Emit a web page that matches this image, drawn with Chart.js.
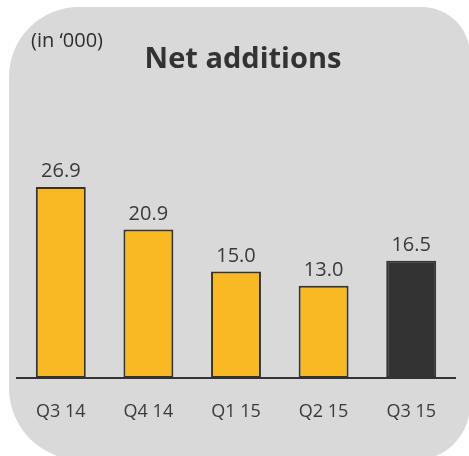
<!DOCTYPE html>
<html>
<head>
<meta charset="utf-8">
<script src="https://cdn.jsdelivr.net/npm/chart.js@4"></script>
<style>
    html, body { margin: 0; padding: 0; background: #ffffff; overflow: hidden; }
    #wrap { position: relative; width: 469px; height: 456px; overflow: hidden; }
    #panel {
        position: absolute; left: 9px; top: 7px; width: 461px; height: 453px;
        background: #d9d9d9;
        border-radius: 70px 48px 55px 72px;
    }
    #chart { position: absolute; left: 0; top: 0; }
</style>
</head>
<body>
<div id="wrap">
    <div id="panel"></div>
    <canvas id="chart" width="469" height="456"></canvas>
</div>
<script>
const quarters = ['Q3 14', 'Q4 14', 'Q1 15', 'Q2 15', 'Q3 15'];
const netAdditions = [26.9, 20.9, 15.0, 13.0, 16.5];
const yTicks = [0, 30];

const YELLOW = '#f8b924';
const DARK = '#333333';
const FONT = '"Open Sans", "Noto Sans", sans-serif';

// last quarter is highlighted in dark grey
const barColors = netAdditions.map((v, i) => i === netAdditions.length - 1 ? DARK : YELLOW);

const headerPlugin = {
    id: 'header',
    afterDraw(chart) {
        const ctx = chart.ctx;
        ctx.save();
        ctx.fillStyle = '#333333';
        ctx.textBaseline = 'alphabetic';
        ctx.font = 'bold 29px ' + FONT;
        ctx.textAlign = 'center';
        ctx.fillText('Net additions', 243, 68);
        ctx.fillStyle = '#2e2e2e';
        ctx.font = '20px ' + FONT;
        ctx.textAlign = 'left';
        ctx.fillText('(in \u2018000)', 31, 47);
        ctx.restore();
    }
};

const valueLabels = {
    id: 'valueLabels',
    afterDatasetsDraw(chart) {
        const ctx = chart.ctx;
        const meta = chart.getDatasetMeta(0);
        ctx.save();
        ctx.fillStyle = '#3a3a3a';
        ctx.font = '20px ' + FONT;
        ctx.textAlign = 'center';
        ctx.textBaseline = 'alphabetic';
        meta.data.forEach((bar, i) => {
            ctx.fillText(netAdditions[i].toFixed(1), bar.x, bar.y - 10);
        });
        ctx.restore();
    }
};

new Chart(document.getElementById('chart'), {
    type: 'bar',
    data: {
        labels: quarters,
        datasets: [{
            data: netAdditions,
            backgroundColor: barColors,
            borderColor: DARK,
            borderWidth: 2,
            borderSkipped: false,
            barPercentage: 0.57,
            categoryPercentage: 1.0
        }]
    },
    options: {
        responsive: false,
        animation: false,
        layout: {
            padding: { top: 165, left: 17, right: 14, bottom: 0 }
        },
        plugins: {
            legend: { display: false },
            tooltip: { enabled: false }
        },
        scales: {
            x: {
                grid: { display: false, drawTicks: false },
                border: { display: true, color: DARK, width: 2 },
                ticks: {
                    color: '#3a3a3a',
                    padding: 23,
                    font: { family: FONT, size: 18 }
                },
                afterFit(scale) { scale.height = 78; }
            },
            y: {
                display: false,
                min: yTicks[0],
                max: yTicks[1]
            }
        }
    },
    plugins: [headerPlugin, valueLabels]
});
</script>
</body>
</html>
